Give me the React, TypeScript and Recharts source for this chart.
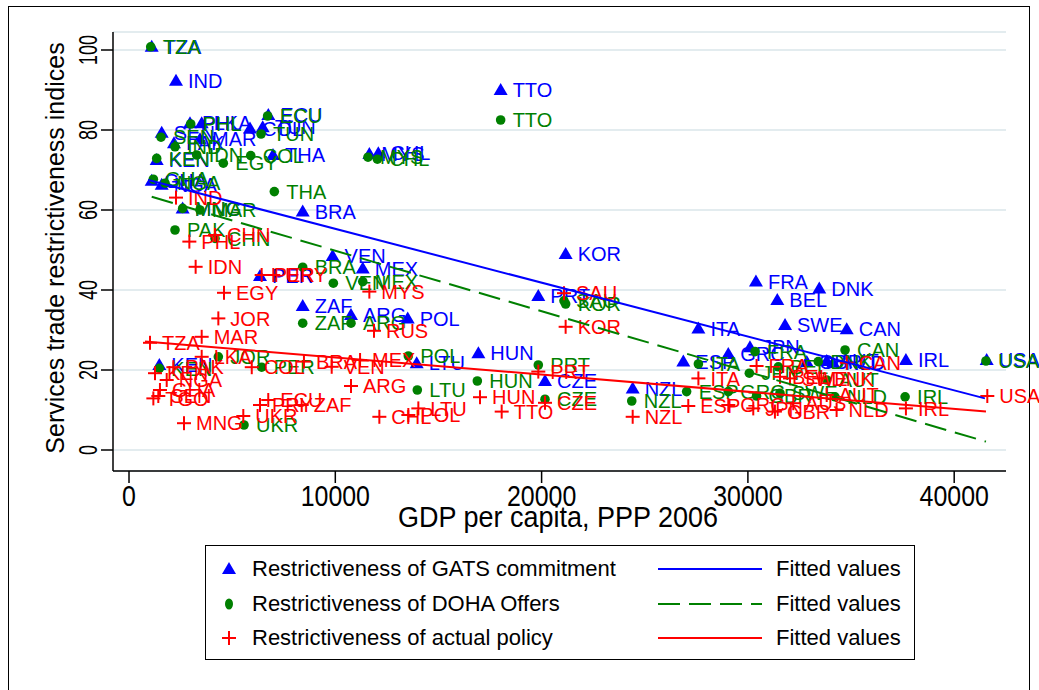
import React from "react";
import { ScatterChart, Scatter, XAxis, YAxis, CartesianGrid } from "recharts";

// [country, GDP per capita PPP 2006, index]
const gats: [string, number, number][] = [
  ["TZA", 1100, 100.8], ["IND", 2278, 92.3], ["TTO", 18015, 90], ["ECU", 6753, 83.75],
  ["PHL", 2957, 81.7], ["LKA", 3523, 81.7], ["COL", 5865, 80.4], ["TUN", 6480, 80.7],
  ["SEN", 1585, 79.3], ["MAR", 3440, 77.7], ["PAK", 2180, 76.7], ["KEN", 1342, 72.5],
  ["THA", 6980, 73.75], ["MYS", 11650, 74], ["CHL", 12085, 74.2], ["GHA", 1100, 67.3],
  ["NGA", 1585, 66.3], ["MNG", 2600, 60.4], ["BRA", 8420, 59.6], ["KOR", 21165, 49],
  ["VEN", 9870, 48.5], ["MEX", 11330, 45.4], ["PER", 6350, 43.5], ["FRA", 30390, 42.1],
  ["DNK", 33460, 40.4], ["PRT", 19840, 38.5], ["BEL", 31425, 37.5], ["ZAF", 8420, 36],
  ["ARG", 10760, 33.75], ["POL", 13510, 32.9], ["SWE", 31800, 31.25], ["ITA", 27600, 30.4],
  ["CAN", 34790, 30.2], ["JPN", 30100, 25.7], ["HUN", 16935, 24.2], ["GRC", 29050, 24],
  ["IRL", 37660, 22.5], ["USA", 41575, 22.5], ["ESP", 26870, 22.1], ["AUT", 33820, 22.25],
  ["GBR", 32855, 22], ["NLD", 34130, 21.8], ["LTU", 13945, 21.7], ["KEN", 1470, 21.25],
  ["CZE", 20165, 17.25], ["NZL", 24415, 15.4],
];

const doha: [string, number, number][] = [
  ["TZA", 1052, 100.8], ["ECU", 6720, 83.5], ["TTO", 18015, 82.5], ["PHL", 2990, 81.5],
  ["TUN", 6400, 79], ["SEN", 1551, 78.2], ["IND", 2230, 75.8], ["IDN", 3280, 73.75],
  ["COL", 5900, 73.6], ["KEN", 1342, 72.9], ["MYS", 11585, 73.2], ["CHL", 12040, 72.7],
  ["EGY", 4572, 71.7], ["GHA", 1180, 67.7], ["NGA", 1745, 66.7], ["THA", 7045, 64.6],
  ["MNG", 2600, 60.4], ["MAR", 3440, 60], ["PAK", 2230, 55], ["CHN", 4170, 52.9],
  ["BRA", 8420, 45.7], ["MEX", 11330, 42.1], ["VEN", 9905, 41.7], ["SAU", 21085, 37.3],
  ["KOR", 21165, 36.5], ["ZAF", 8420, 31.7], ["ARG", 10760, 31.7], ["CAN", 34710, 25],
  ["FRA", 30345, 24.6], ["POL", 13540, 23.5], ["JOR", 4330, 23.3], ["USA", 41540, 22.25],
  ["DNK", 33410, 22.1], ["ITA", 27600, 21.5], ["PRT", 19840, 21.25], ["BEL", 31475, 20.8],
  ["PER", 6430, 20.7], ["KEN", 1470, 20.4], ["JPN", 30070, 19.2], ["AUT", 33820, 17.5],
  ["HUN", 16885, 17.25], ["LTU", 13975, 15], ["ESP", 27030, 14.6], ["GRC", 29050, 14.6],
  ["SWE", 31555, 14.2], ["GBR", 30420, 13.5], ["NLD", 34220, 13.3], ["IRL", 37620, 13.3],
  ["CZE", 20165, 12.7], ["NZL", 24370, 12.25], ["UKR", 5575, 6.25],
];

const actual: [string, number, number][] = [
  ["IND", 2278, 63.1], ["CHN", 4170, 53.75], ["PHL", 2925, 52.1], ["IDN", 3230, 45.8],
  ["PER", 6430, 43.75], ["URY", 6995, 43.75], ["MYS", 11650, 39.6], ["EGY", 4605, 39.3],
  ["SAU", 21085, 39.2], ["JOR", 4330, 32.9], ["KOR", 21165, 30.8], ["RUS", 11875, 29.8],
  ["MAR", 3523, 28.3], ["TZA", 1018, 26.8], ["LKA", 3523, 23.3], ["MEX", 11200, 22.5],
  ["BRA", 8480, 22.1], ["CAN", 34790, 21.8], ["FRA", 30420, 21], ["VEN", 9825, 20.8],
  ["PAK", 2150, 20.7], ["COL", 5950, 20.7], ["PRT", 19840, 19.6], ["KEN", 1260, 19.2],
  ["BEL", 31555, 18.3], ["ITA", 27600, 17.9], ["SWE", 32040, 17.9], ["DNK", 33460, 17.9],
  ["NGA", 1827, 17.5], ["ARG", 10760, 16], ["GHA", 1500, 15], ["SEN", 1420, 13.5],
  ["TGO", 1180, 12.9], ["AUT", 33820, 13.75], ["USA", 41605, 13.5], ["HUN", 17015, 13.2],
  ["ECU", 6750, 12.5], ["CZE", 20165, 11.8], ["AUS", 32200, 11.7], ["ZAF", 8370, 11.25],
  ["GRC", 29050, 11.25], ["PRY", 6350, 11.25], ["ESP", 27110, 11], ["LTU", 14025, 10.4],
  ["JPN", 30260, 10.4], ["IRL", 37660, 10.4], ["NLD", 34300, 10], ["TTO", 18065, 9.6],
  ["GBR", 31310, 9.6], ["POL", 13540, 8.75], ["UKR", 5540, 8.5], ["CHL", 12135, 8.3],
  ["NZL", 24415, 8.3], ["MNG", 2666, 6.7],
];

// fitted line end points [GDP, fitted value]
const gatsFit: [number, number][] = [[935, 67.5], [41490, 12.9]];
const dohaFit: [number, number][] = [[1100, 63.3], [41540, 2.1]];
const actualFit: [number, number][] = [[776, 27.1], [41540, 9.6]];

const xTicks = [0, 10000, 20000, 30000, 40000];
const yTicks = [0, 20, 40, 60, 80, 100];

const BLUE = "#0000ff";
const GREEN = "#008000";
const RED = "#ff0000";
const SANS = "'Liberation Sans', Arial, sans-serif";

const toPoints = (rows: [string, number, number][]) =>
  rows.map(([name, x, y]) => ({ name, x, y }));
const toLine = (rows: [number, number][]) => rows.map(([x, y]) => ({ x, y }));

function makeShape(kind: "tri" | "dot" | "plus", color: string) {
  return (props: any) => {
    const { cx, cy, payload } = props;
    if (cx == null || cy == null) return <g />;
    let mark;
    if (kind === "tri") {
      mark = (
        <polygon
          points={`${cx},${cy - 7} ${cx - 7},${cy + 5} ${cx + 7},${cy + 5}`}
          fill={color}
        />
      );
    } else if (kind === "dot") {
      mark = <circle cx={cx} cy={cy} r={4.8} fill={color} />;
    } else {
      mark = (
        <g stroke={color} strokeWidth={2}>
          <line x1={cx - 7} y1={cy} x2={cx + 7} y2={cy} />
          <line x1={cx} y1={cy - 7} x2={cx} y2={cy + 7} />
        </g>
      );
    }
    return (
      <g>
        {mark}
        <text
          x={cx + 12}
          y={cy}
          dy="0.36em"
          fill={color}
          fontSize={20}
          fontFamily={SANS}
        >
          {payload.name}
        </text>
      </g>
    );
  };
}

const noShape = () => <g />;

// Stata draws its axis text condensed, so the glyphs are squeezed along the text
function YTick(props: any) {
  const { x, y, payload } = props;
  return (
    <text
      transform={`translate(${x} ${y}) rotate(-90) scale(0.72 1)`}
      textAnchor="middle"
      fontSize={25}
      fontFamily={SANS}
      fill="#000"
    >
      {payload.value}
    </text>
  );
}

function XTick(props: any) {
  const { x, y, payload } = props;
  return (
    <text
      transform={`translate(${x} ${y}) scale(0.86 1)`}
      dy="0.72em"
      textAnchor="middle"
      fontSize={29}
      fontFamily={SANS}
      fill="#000"
    >
      {payload.value}
    </text>
  );
}

function LegendIcon({ kind, color }: { kind: string; color: string }) {
  return (
    <svg width={20} height={20} style={{ display: "block" }}>
      {kind === "tri" && <polygon points="10,3 3,15 17,15" fill={color} />}
      {kind === "dot" && <ellipse cx={10} cy={10} rx={4} ry={5.5} fill={color} />}
      {kind === "plus" && (
        <g stroke={color} strokeWidth={2}>
          <line x1={3} y1={10} x2={17} y2={10} />
          <line x1={10} y1={3} x2={10} y2={17} />
        </g>
      )}
    </svg>
  );
}

const legendRows = [
  { kind: "tri", color: BLUE, label: "Restrictiveness of GATS commitment", dash: "" },
  { kind: "dot", color: GREEN, label: "Restrictiveness of DOHA Offers", dash: "22 9" },
  { kind: "plus", color: RED, label: "Restrictiveness of actual policy", dash: "" },
];

export default function App() {
  return (
    <div
      style={{
        position: "absolute",
        left: 0,
        top: 0,
        width: 1039,
        height: 690,
        background: "#fff",
        overflow: "hidden",
      }}
    >
      <div
        style={{
          position: "absolute",
          left: 8,
          top: 6,
          width: 1020,
          height: 720,
          border: "1.5px solid #000",
        }}
      />
      <div style={{ position: "absolute", left: 0, top: 0 }}>
        <ScatterChart
          width={1039}
          height={690}
          margin={{ top: 32, right: 33, bottom: 179, left: 53 }}
        >
          <CartesianGrid
            horizontal
            vertical={false}
            stroke="#e3ecef"
            strokeWidth={2}
          />
          <XAxis
            type="number"
            dataKey="x"
            domain={[-776, 42511]}
            ticks={xTicks}
            height={40}
            axisLine={{ stroke: "#000", strokeWidth: 1.5 }}
            tickLine={{ stroke: "#000", strokeWidth: 1.5 }}
            tickSize={12}
            tickMargin={2}
            tick={<XTick />}
            interval={0}
          />
          <YAxis
            type="number"
            dataKey="y"
            domain={[-5.25, 104.5]}
            ticks={yTicks}
            width={60}
            axisLine={{ stroke: "#000", strokeWidth: 1.5 }}
            tickLine={{ stroke: "#000", strokeWidth: 1.5 }}
            tickSize={12}
            tickMargin={4}
            tick={<YTick />}
            interval={0}
          />
          <Scatter
            data={toPoints(gats)}
            shape={makeShape("tri", BLUE)}
            isAnimationActive={false}
          />
          <Scatter
            data={toPoints(doha)}
            shape={makeShape("dot", GREEN)}
            isAnimationActive={false}
          />
          <Scatter
            data={toPoints(actual)}
            shape={makeShape("plus", RED)}
            isAnimationActive={false}
          />
          <Scatter
            data={toLine(gatsFit)}
            line={{ stroke: BLUE, strokeWidth: 2 }}
            shape={noShape}
            isAnimationActive={false}
          />
          <Scatter
            data={toLine(dohaFit)}
            line={{ stroke: GREEN, strokeWidth: 2, strokeDasharray: "22 9" }}
            shape={noShape}
            isAnimationActive={false}
          />
          <Scatter
            data={toLine(actualFit)}
            line={{ stroke: RED, strokeWidth: 2 }}
            shape={noShape}
            isAnimationActive={false}
          />
        </ScatterChart>
      </div>
      <svg
        width={1039}
        height={690}
        style={{ position: "absolute", left: 0, top: 0, pointerEvents: "none" }}
      >
        <text
          transform="translate(64 248) rotate(-90)"
          textAnchor="middle"
          fontSize={25}
          fontFamily={SANS}
        >
          Services trade restrictiveness indices
        </text>
        <text
          transform="translate(558 527) scale(0.9 1)"
          textAnchor="middle"
          fontSize={30}
          fontFamily={SANS}
        >
          GDP per capita, PPP 2006
        </text>
      </svg>
      <div
        style={{
          position: "absolute",
          left: 205,
          top: 545,
          width: 708,
          height: 113,
          border: "1.5px solid #000",
          fontFamily: SANS,
          fontSize: 22,
          color: "#000",
        }}
      >
        {legendRows.map((r, i) => (
          <div
            key={i}
            style={{
              position: "absolute",
              left: 0,
              top: 8 + i * 34.5,
              height: 30,
              width: 708,
              display: "flex",
              alignItems: "center",
            }}
          >
            <div
              style={{ width: 46, flexShrink: 0, display: "flex", justifyContent: "center" }}
            >
              <LegendIcon kind={r.kind} color={r.color} />
            </div>
            <div style={{ width: 404, flexShrink: 0, whiteSpace: "nowrap" }}>{r.label}</div>
            <svg width={108} height={10} style={{ display: "block", flexShrink: 0 }}>
              <line
                x1={2}
                y1={5}
                x2={106}
                y2={5}
                stroke={r.color}
                strokeWidth={2}
                strokeDasharray={r.dash || undefined}
              />
            </svg>
            <div style={{ marginLeft: 12, whiteSpace: "nowrap" }}>Fitted values</div>
          </div>
        ))}
      </div>
    </div>
  );
}
